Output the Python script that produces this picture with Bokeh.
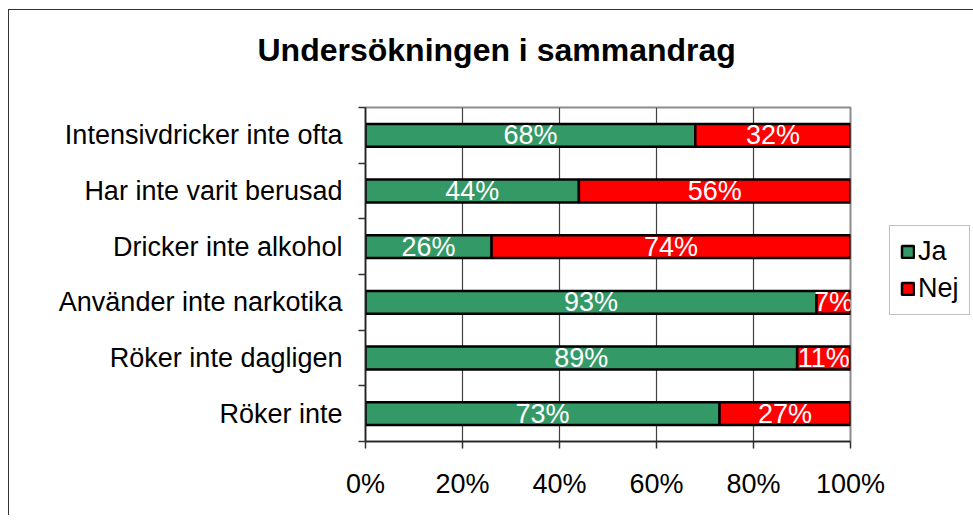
from bokeh.plotting import figure
from bokeh.models import (ColumnDataSource, Range1d, FixedTicker, PrintfTickFormatter,
                          LabelSet, Legend)
from bokeh.core.properties import value
from bokeh.embed import file_html
from bokeh.resources import INLINE

# ---- data ----
title_text = "Undersökningen i sammandrag"
categories = ["Intensivdricker inte ofta", "Har inte varit berusad", "Dricker inte alkohol",
              "Använder inte narkotika", "Röker inte dagligen", "Röker inte"]
ja = [68, 44, 26, 93, 89, 73]
nej = [32, 56, 74, 7, 11, 27]
series_names = ["Ja", "Nej"]
x_ticks = [0, 20, 40, 60, 80, 100]

FONT = "Liberation Sans"
GREEN = "#339966"
RED = "#FF0000"

n = len(categories)
ypos = [n - i - 0.5 for i in range(n)]

src = ColumnDataSource(dict(
    y=ypos, cat=categories, ja=ja, nej=nej,
    ja_mid=[a / 2 for a in ja],
    nej_mid=[a + b / 2 for a, b in zip(ja, nej)],
    ja_txt=[f"{a}%" for a in ja],
    nej_txt=[f"{b}%" for b in nej],
))

p = figure(width=957, height=505, frame_width=485, frame_height=334,
           output_backend="svg", toolbar_location=None,
           x_range=Range1d(0, 100), y_range=Range1d(0, n),
           min_border_left=356, min_border_right=116, min_border_top=97, min_border_bottom=74)
p.margin = (9, 0, 0, 8)
p.styles = {"border-left": "1px solid #333333", "border-top": "1px solid #333333"}
p.background_fill_color = "white"
p.border_fill_color = "white"
p.outline_line_color = "#8c8c8c"
p.outline_line_width = 2

# trailing line break keeps the title high above the plot area, as in the original
p.title.text = title_text + "\n"
p.title.align = "left"
p.title.offset = -108
p.title.standoff = 8
p.title.vertical_align = "bottom"
p.title.text_font = FONT
p.title.text_font_size = "32px"
p.title.text_font_style = "bold"
p.title.text_color = "black"

renderers = p.hbar_stack(["ja", "nej"], y="y", height=0.41, source=src,
                         color=[GREEN, RED], line_color="black", line_width=2.5)

for col_x, col_t in (("ja_mid", "ja_txt"), ("nej_mid", "nej_txt")):
    p.add_layout(LabelSet(x=col_x, y="y", text=col_t, source=src, text_color="white",
                          text_font=value(FONT), text_font_size="27px", text_align="center",
                          text_baseline="middle"))

# x axis
xa = p.xaxis[0]
xa.ticker = FixedTicker(ticks=x_ticks)
xa.formatter = PrintfTickFormatter(format="%d%%")
xa.major_tick_out = 7
xa.major_tick_in = 0
xa.minor_tick_line_color = None
xa.major_tick_line_color = "#333333"
xa.major_tick_line_width = 1.5
xa.axis_line_color = "#222222"
xa.axis_line_width = 1.5
xa.major_label_text_font = FONT
xa.major_label_text_font_size = "27px"
xa.major_label_text_color = "black"
xa.major_label_standoff = 20

# y axis
ya = p.yaxis[0]
ya.ticker = FixedTicker(ticks=ypos, minor_ticks=list(range(n + 1)))
ya.major_label_overrides = {y: c for y, c in zip(ypos, categories)}
ya.major_tick_line_color = None
ya.major_tick_out = 0
ya.major_tick_in = 0
ya.minor_tick_out = 7
ya.minor_tick_in = 0
ya.minor_tick_line_color = "#333333"
ya.minor_tick_line_width = 1.5
ya.axis_line_color = "#222222"
ya.axis_line_width = 1.5
ya.major_label_text_font = FONT
ya.major_label_text_font_size = "27px"
ya.major_label_text_color = "black"
ya.major_label_standoff = 16

p.xgrid.ticker = FixedTicker(ticks=x_ticks[1:-1])
p.xgrid.grid_line_color = "#404040"
p.xgrid.grid_line_width = 1.2
p.ygrid.grid_line_color = None

legend = Legend(items=[(nm, [r]) for nm, r in zip(series_names, renderers)],
                location=(39, 126), orientation="vertical",
                label_text_font=FONT, label_text_font_size="27px", label_text_color="black",
                glyph_width=15, glyph_height=15, label_standoff=3, padding=10, spacing=6,
                margin=0, border_line_color="#808080", border_line_width=1.5,
                background_fill_color="white", background_fill_alpha=1.0)
p.add_layout(legend, "right")

open("out.html", "w").write(file_html(p, INLINE))
